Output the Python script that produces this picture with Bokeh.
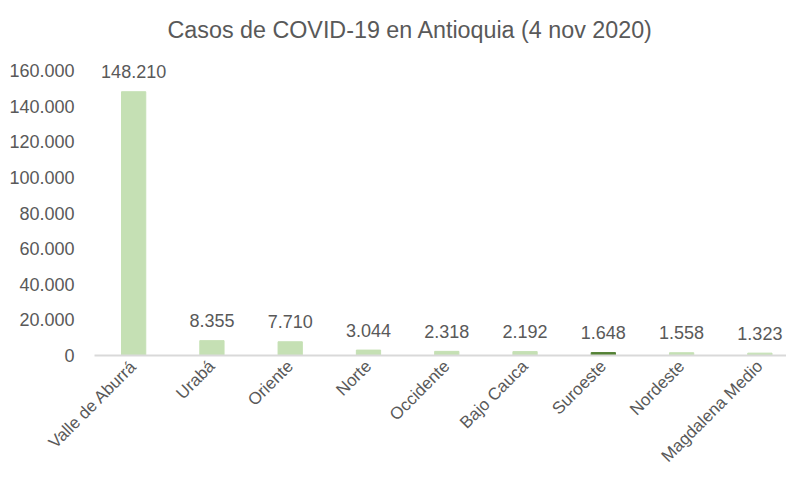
from bokeh.plotting import figure
from bokeh.models import Range1d, FixedTicker, ColumnDataSource
from bokeh.embed import file_html
from bokeh.resources import INLINE

categories = ["Valle de Aburrá", "Urabá", "Oriente", "Norte", "Occidente",
              "Bajo Cauca", "Suroeste", "Nordeste", "Magdalena Medio"]
values = [148210, 8355, 7710, 3044, 2318, 2192, 1648, 1558, 1323]
value_labels = ["148.210", "8.355", "7.710", "3.044", "2.318", "2.192", "1.648", "1.558", "1.323"]
y_ticks = [0, 20000, 40000, 60000, 80000, 100000, 120000, 140000, 160000]
y_tick_labels = ["0", "20.000", "40.000", "60.000", "80.000", "100.000", "120.000", "140.000", "160.000"]

LIGHT = "#c5e0b4"
DARK = "#548235"
TEXT = "#595959"
FONT = "Liberation Sans"

xs = list(range(len(categories)))
colors = [DARK if c == "Suroeste" else LIGHT for c in categories]
src = ColumnDataSource(dict(x=xs, top=values, color=colors, lab=value_labels))

p = figure(width=786, height=475, output_backend="svg", toolbar_location=None,
           x_range=Range1d(-0.5, 8.34), y_range=Range1d(0, 168000),
           min_border_left=94, min_border_right=0, min_border_top=46, min_border_bottom=20)
p.outline_line_color = None
p.xgrid.grid_line_color = None
p.ygrid.grid_line_color = None

p.vbar(x="x", top="top", width=0.31, color="color", source=src)
p.text(x="x", y="top", text="lab", source=src, text_align="center", text_baseline="middle",
       y_offset=-20, text_font_size="18px", text_color=TEXT, text_font={"value": FONT})

p.title.text = "Casos de COVID-19 en Antioquia (4 nov 2020)"
p.title.align = "left"
p.title.offset = 73
p.title.text_font = FONT
p.title.text_font_size = "23.3px"
p.title.text_font_style = "normal"
p.title.text_color = TEXT
p.title.standoff = 28

xa = p.xaxis[0]
xa.ticker = FixedTicker(ticks=xs)
xa.major_label_overrides = {i: c for i, c in zip(xs, categories)}
xa.major_label_orientation = 0.785398
xa.axis_line_color = "#d9d9d9"
xa.axis_line_width = 2
xa.major_tick_line_color = None
xa.minor_tick_line_color = None
xa.major_tick_out = 0
xa.major_tick_in = 0
xa.major_label_standoff = 8
xa.major_label_text_font = FONT
xa.major_label_text_font_size = "17px"
xa.major_label_text_color = TEXT

ya = p.yaxis[0]
ya.ticker = FixedTicker(ticks=y_ticks)
ya.major_label_overrides = {t: l for t, l in zip(y_ticks, y_tick_labels)}
ya.axis_line_color = None
ya.major_tick_line_color = None
ya.minor_tick_line_color = None
ya.major_tick_out = 0
ya.major_tick_in = 0
ya.major_label_standoff = 20
ya.major_label_text_font = FONT
ya.major_label_text_font_size = "18px"
ya.major_label_text_color = TEXT

open("out.html", "w").write(file_html(p, INLINE))
